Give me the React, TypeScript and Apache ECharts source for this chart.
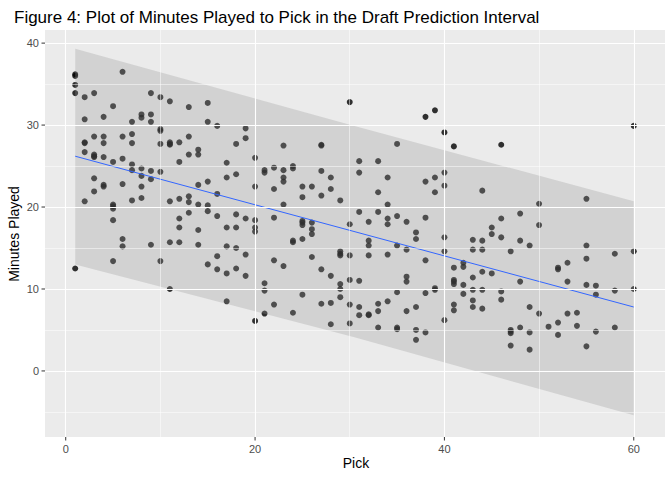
import React, { useEffect, useRef } from "react";
import * as echarts from "echarts";

// Minutes played observed at each draft pick
const minutesByPick: [number, number[]][] = [
  [1, [36.2, 36.0, 34.9, 33.9, 12.5]],
  [2, [33.4, 30.7, 27.9, 27.8, 26.7, 20.7]],
  [3, [33.9, 28.6, 26.4, 26.2, 26.1, 23.5, 21.9]],
  [4, [31.0, 28.6, 27.8, 26.1, 22.7, 22.5]],
  [5, [32.3, 25.5, 20.3, 20.1, 19.8, 18.4, 13.4]],
  [6, [36.5, 28.6, 25.9, 22.8, 16.1, 15.2]],
  [7, [30.4, 28.9, 27.8, 25.2, 24.5, 20.8]],
  [8, [31.3, 30.9, 24.7, 23.8, 22.5, 21.1]],
  [9, [33.9, 31.3, 30.4, 24.4, 23.4, 15.4]],
  [10, [33.4, 29.5, 29.3, 27.7, 24.3, 13.4]],
  [11, [32.9, 27.9, 27.7, 27.6, 20.7, 15.7, 10.0]],
  [12, [27.9, 25.5, 21.0, 18.6, 17.5, 15.7]],
  [13, [32.2, 28.6, 26.4, 21.3, 20.6, 19.3]],
  [14, [27.0, 26.4, 22.7, 20.3, 17.2, 15.4]],
  [15, [32.7, 30.4, 23.1, 20.2, 19.5, 13.0]],
  [16, [29.9, 21.6, 18.9, 14.0, 12.4]],
  [17, [25.4, 23.6, 17.5, 15.2, 11.9, 8.5]],
  [18, [27.7, 24.0, 19.1, 17.5, 15.0, 12.5]],
  [19, [29.6, 28.4, 18.6, 14.2, 11.6]],
  [20, [26.0, 22.5, 18.4, 17.5, 17.0, 6.1]],
  [21, [24.5, 24.2, 10.7, 9.8, 7.0]],
  [22, [24.8, 22.2, 18.7, 13.5, 8.1]],
  [23, [27.5, 24.5, 23.6, 23.1, 20.3, 12.8]],
  [24, [25.0, 24.7, 15.9, 15.7, 7.1]],
  [25, [22.5, 21.2, 18.3, 18.1, 17.8, 16.1, 9.3]],
  [26, [22.5, 18.1, 17.3, 16.7, 13.9]],
  [27, [27.6, 27.5, 24.4, 21.4, 12.4, 8.2]],
  [28, [23.6, 22.2, 11.6, 8.3, 5.7]],
  [29, [20.8, 14.6, 14.3, 14.1, 10.6, 10.0, 9.0]],
  [30, [32.8, 17.9, 14.1, 11.1, 8.1, 5.8]],
  [31, [25.6, 24.2, 19.4, 11.0, 7.8, 6.8]],
  [32, [18.2, 15.9, 15.3, 14.1, 6.9, 6.8]],
  [33, [25.6, 21.8, 19.4, 8.2, 7.3, 5.3]],
  [34, [23.6, 20.3, 18.6, 17.9, 14.2, 8.5]],
  [35, [27.7, 18.9, 15.3, 9.6, 5.3, 5.1]],
  [36, [18.2, 14.8, 11.5, 10.9, 7.3]],
  [37, [16.9, 16.1, 7.8, 5.0, 3.8]],
  [38, [31.0, 23.1, 18.7, 13.5, 9.5, 4.7]],
  [39, [31.8, 23.6, 21.8, 10.1, 9.9]],
  [40, [29.1, 24.2, 22.6, 16.3, 14.6, 6.2]],
  [41, [27.4, 12.6, 11.1, 10.9, 10.6, 8.1, 7.4]],
  [42, [13.2, 12.7, 10.5, 9.4]],
  [43, [16.0, 14.8, 11.4, 9.9, 8.6, 7.8]],
  [44, [22.0, 15.9, 14.8, 12.1, 9.9, 7.6]],
  [45, [17.5, 16.7, 11.9]],
  [46, [27.6, 18.6, 16.3, 9.7, 8.7]],
  [47, [14.6, 5.0, 4.8, 4.6, 3.1]],
  [48, [19.2, 15.9, 10.9, 5.3]],
  [49, [15.3, 7.8, 4.7, 2.6]],
  [50, [20.4, 17.8, 7.0]],
  [51, [5.4]],
  [52, [12.6, 12.4, 5.9, 4.4]],
  [53, [13.2, 10.9, 7.0]],
  [54, [7.1, 5.5]],
  [55, [21.0, 15.3, 13.7, 10.5, 3.0]],
  [56, [10.4, 9.3, 4.8]],
  [58, [14.3, 9.8, 5.3]],
  [60, [29.9, 14.6, 10.0]],
];

// Fitted line and prediction interval
const fitX = [1, 60];
const fitY = [26.2, 7.8];
const bandX = [1, 30.5, 60];
const bandLow = [13.0, 4.1, -5.4];
const bandHigh = [39.3, 29.9, 20.7];

const xMajor = [0, 20, 40, 60];
const xMinor = [10, 30, 50];
const yMajor = [0, 10, 20, 30, 40];
const yMinor = [-5, 5, 15, 25, 35];

const X_MIN = -2.19, X_MAX = 63.3, Y_MIN = -8.06, Y_MAX = 41.6;
const FONT = "'Liberation Sans', Arial, sans-serif";

export default function App() {
  const ref = useRef<HTMLDivElement>(null);
  useEffect(() => {
    const chart = echarts.init(ref.current!, null, { renderer: "svg" });
    const points: number[][] = [];
    minutesByPick.forEach(([p, vs]) => vs.forEach((v) => points.push([p, v])));

    const vLine = (v: number, w: number) => [
      { coord: [v, Y_MIN], lineStyle: { color: "#fff", width: w, type: "solid" } },
      { coord: [v, Y_MAX] },
    ];
    const hLine = (v: number, w: number) => [
      { coord: [X_MIN, v], lineStyle: { color: "#fff", width: w, type: "solid" } },
      { coord: [X_MAX, v] },
    ];

    chart.setOption({
      animation: false,
      title: {
        text: "Figure 4: Plot of Minutes Played to Pick in the Draft Prediction Interval",
        left: 9,
        top: 4,
        textStyle: { fontSize: 17, fontWeight: "normal", color: "#000", fontFamily: FONT },
      },
      grid: { left: 45, right: 7, top: 30, bottom: 43, show: true, backgroundColor: "#EBEBEB", borderWidth: 0 },
      xAxis: { type: "value", min: X_MIN, max: X_MAX, show: false },
      yAxis: { type: "value", min: Y_MIN, max: Y_MAX, show: false },
      series: [
        {
          type: "line", data: [], z: 0, silent: true,
          markLine: {
            silent: true, symbol: "none", animation: false, label: { show: false },
            data: [
              ...xMinor.map((v) => vLine(v, 0.5)),
              ...yMinor.map((v) => hLine(v, 0.5)),
              ...xMajor.map((v) => vLine(v, 1.1)),
              ...yMajor.map((v) => hLine(v, 1.1)),
            ],
          },
        },
        {
          type: "scatter", data: points, symbolSize: 6, z: 2, silent: true,
          itemStyle: { color: "#000" },
        },
        {
          type: "custom", z: 3, silent: true, data: [[0, 0]],
          renderItem: (params: any, api: any) => {
            const pts: number[][] = [];
            bandX.forEach((x, i) => pts.push(api.coord([x, bandHigh[i]])));
            for (let i = bandX.length - 1; i >= 0; i--) pts.push(api.coord([bandX[i], bandLow[i]]));
            return { type: "polygon", shape: { points: pts }, style: { fill: "rgba(153,153,153,0.3)" } };
          },
        },
        {
          type: "line", z: 4, silent: true, symbol: "none",
          data: fitX.map((x, i) => [x, fitY[i]]),
          lineStyle: { color: "#3366FF", width: 1 },
        },
      ],
    });

    const g: any[] = [];
    const [, yb] = chart.convertToPixel({ gridIndex: 0 }, [0, Y_MIN]) as number[];
    const [xl] = chart.convertToPixel({ gridIndex: 0 }, [X_MIN, 0]) as number[];
    xMajor.forEach((v) => {
      const [px] = chart.convertToPixel({ gridIndex: 0 }, [v, 0]) as number[];
      g.push({ type: "line", shape: { x1: px, y1: yb, x2: px, y2: yb + 3.5 }, style: { stroke: "#333", lineWidth: 1 } });
      g.push({ type: "text", x: px, y: yb + 6, style: { text: String(v), fontSize: 11, fontFamily: FONT, fill: "#4D4D4D", align: "center", verticalAlign: "top" } });
    });
    yMajor.forEach((v) => {
      const [, py] = chart.convertToPixel({ gridIndex: 0 }, [0, v]) as number[];
      g.push({ type: "line", shape: { x1: xl - 3.5, y1: py, x2: xl, y2: py }, style: { stroke: "#333", lineWidth: 1 } });
      g.push({ type: "text", x: xl - 6, y: py, style: { text: String(v), fontSize: 11, fontFamily: FONT, fill: "#4D4D4D", align: "right", verticalAlign: "middle" } });
    });
    g.push({ type: "text", x: 356, y: 456, style: { text: "Pick", fontSize: 14, fontFamily: FONT, fill: "#000", align: "center", verticalAlign: "top" } });
    g.push({ type: "text", x: 14, y: 234, rotation: Math.PI / 2, style: { text: "Minutes Played", fontSize: 14, fontFamily: FONT, fill: "#000", align: "center", verticalAlign: "middle" } });
    chart.setOption({ graphic: g });
    return () => chart.dispose();
  }, []);
  return <div ref={ref} style={{ position: "absolute", left: 0, top: 0, width: 672, height: 480 }} />;
}
